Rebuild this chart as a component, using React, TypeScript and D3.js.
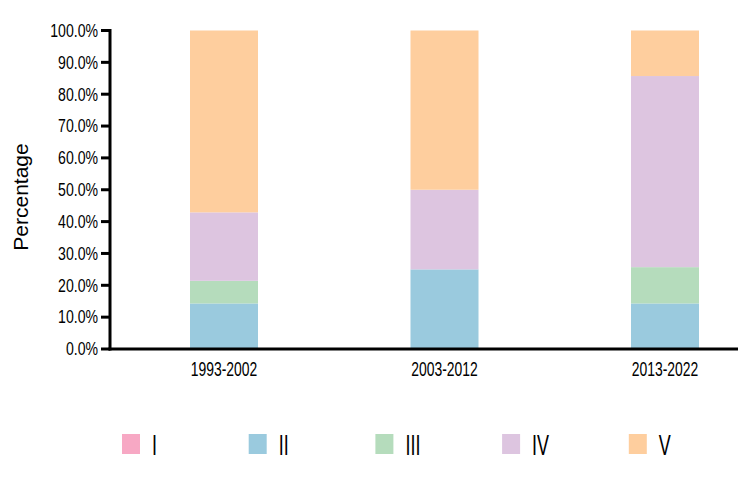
import React from "react";
import * as d3 from "d3";

const categories = ["1993-2002", "2003-2012", "2013-2022"];
const seriesNames = ["I", "II", "III", "IV", "V"];
const valuesI = [0, 0, 0];
const valuesII = [14.3, 25.0, 14.3];
const valuesIII = [7.1, 0, 11.4];
const valuesIV = [21.5, 25.0, 60.0];
const valuesV = [57.1, 50.0, 14.3];
const yTicks = [0, 10, 20, 30, 40, 50, 60, 70, 80, 90, 100];
const colors = ["#F7A8C4", "#9ACADE", "#B5DCBC", "#DDC5E0", "#FECE9E"];

const W = 754;
const H = 488;
const FONT = "'Liberation Sans', Arial, sans-serif";

function CText({ x, y, sx, size, anchor, children }: any) {
  return (
    <text
      transform={`translate(${x},${y}) scale(${sx},1)`}
      textAnchor={anchor || "start"}
      fontFamily={FONT}
      fontSize={size}
      fill="#000"
    >
      {children}
    </text>
  );
}

export default function App() {
  const table = categories.map((c, i) => ({
    cat: c,
    I: valuesI[i],
    II: valuesII[i],
    III: valuesIII[i],
    IV: valuesIV[i],
    V: valuesV[i],
  }));
  const stack = d3.stack<any>().keys(seriesNames)(table);
  const y = d3.scaleLinear().domain([0, 100]).range([349, 30.5]);
  const pi = 1 - 68 / 220.5;
  const x = d3
    .scaleBand()
    .domain(categories)
    .range([224 - 110.25, 665 + 110.25])
    .paddingInner(pi)
    .paddingOuter(pi / 2);
  const axisX = 110;
  const baseY = 349;

  return (
    <svg width={W} height={H} style={{ position: "absolute", left: 0, top: 0, background: "#fff" }}>
      {stack.map((layer, si) => (
        <g key={seriesNames[si]} fill={colors[si]}>
          {layer.map((d, i) => (
            <rect
              key={i}
              x={x(categories[i])}
              width={x.bandwidth()}
              y={y(d[1])}
              height={Math.max(0, y(d[0]) - y(d[1]))}
            />
          ))}
        </g>
      ))}
      {/* y axis */}
      <line x1={axisX} x2={axisX} y1={y(100) - 1.5} y2={baseY + 1.5} stroke="#000" strokeWidth={3} />
      {yTicks.map((t) => (
        <g key={t}>
          <line x1={axisX - 9} x2={axisX} y1={y(t)} y2={y(t)} stroke="#000" strokeWidth={3} />
          <CText x={axisX - 12} y={y(t) + 6.3} sx={0.8} size={17.6} anchor="end">
            {t.toFixed(1) + "%"}
          </CText>
        </g>
      ))}
      {/* x axis */}
      <line x1={axisX - 1.5} x2={738} y1={baseY} y2={baseY} stroke="#000" strokeWidth={3} />
      {categories.map((c) => (
        <CText key={c} x={(x(c) as number) + x.bandwidth() / 2} y={375.7} sx={0.68} size={20.5} anchor="middle">
          {c}
        </CText>
      ))}
      <text
        transform={`translate(28,${197}) rotate(-90)`}
        textAnchor="middle"
        fontFamily={FONT}
        fontSize={21}
        fill="#000"
      >
        Percentage
      </text>
      {/* legend */}
      {seriesNames.map((s, i) => (
        <g key={s} transform={`translate(${122 + i * 126.7},434)`}>
          <rect width={18} height={20} fill={colors[i]} />
          <CText x={30} y={20.5} sx={0.62} size={29}>
            {s}
          </CText>
        </g>
      ))}
    </svg>
  );
}
